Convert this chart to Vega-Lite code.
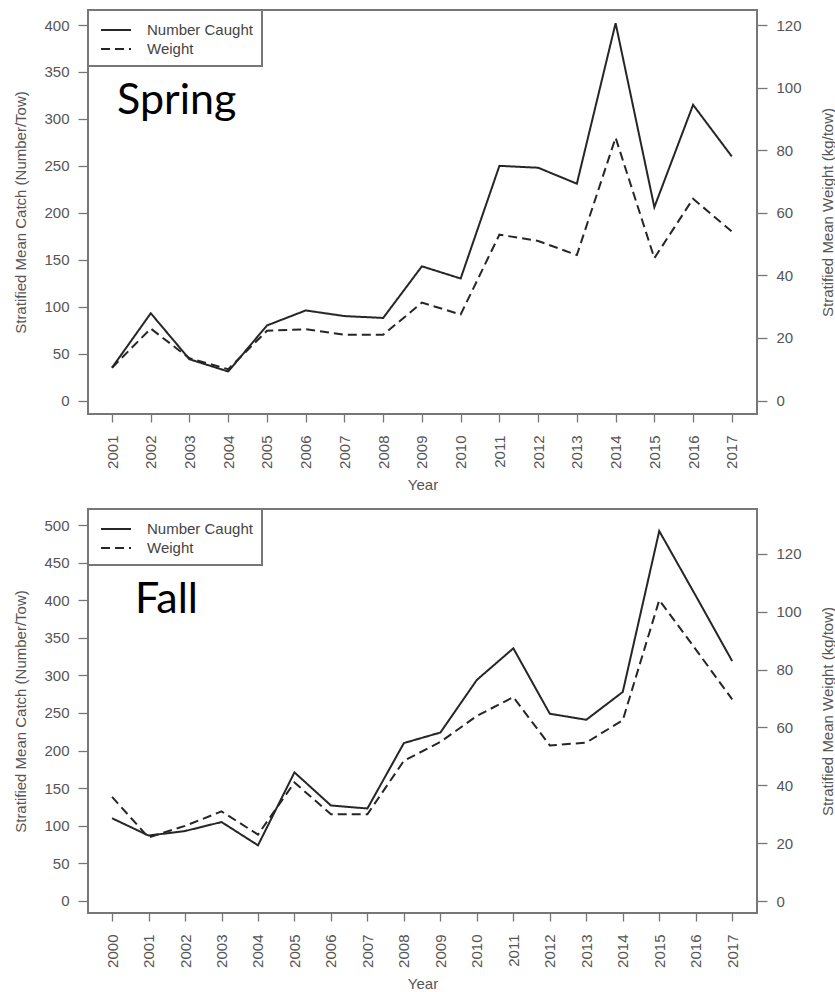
{
  "$schema": "https://vega.github.io/schema/vega-lite/v6.json",
  "background": "white",
  "padding": {"left": 12, "top": 8, "right": 0, "bottom": 0},
  "datasets": {
    "catch": [
      {"season": "Spring", "year": 2001, "number": 35, "weight": 10.5},
      {"season": "Spring", "year": 2002, "number": 93, "weight": 23},
      {"season": "Spring", "year": 2003, "number": 44, "weight": 13.5},
      {"season": "Spring", "year": 2004, "number": 31, "weight": 10},
      {"season": "Spring", "year": 2005, "number": 80, "weight": 22.3},
      {"season": "Spring", "year": 2006, "number": 96, "weight": 22.8},
      {"season": "Spring", "year": 2007, "number": 90, "weight": 21},
      {"season": "Spring", "year": 2008, "number": 88, "weight": 21},
      {"season": "Spring", "year": 2009, "number": 143, "weight": 31.3},
      {"season": "Spring", "year": 2010, "number": 130, "weight": 27.5},
      {"season": "Spring", "year": 2011, "number": 250, "weight": 53},
      {"season": "Spring", "year": 2012, "number": 248, "weight": 51},
      {"season": "Spring", "year": 2013, "number": 231, "weight": 46.5},
      {"season": "Spring", "year": 2014, "number": 402, "weight": 84},
      {"season": "Spring", "year": 2015, "number": 206, "weight": 45.5},
      {"season": "Spring", "year": 2016, "number": 315, "weight": 64.5},
      {"season": "Spring", "year": 2017, "number": 260, "weight": 54},
      {"season": "Fall", "year": 2000, "number": 110, "weight": 36},
      {"season": "Fall", "year": 2001, "number": 87, "weight": 22},
      {"season": "Fall", "year": 2002, "number": 93, "weight": 26},
      {"season": "Fall", "year": 2003, "number": 105, "weight": 31},
      {"season": "Fall", "year": 2004, "number": 74, "weight": 23},
      {"season": "Fall", "year": 2005, "number": 171, "weight": 41},
      {"season": "Fall", "year": 2006, "number": 127, "weight": 30},
      {"season": "Fall", "year": 2007, "number": 123, "weight": 30},
      {"season": "Fall", "year": 2008, "number": 210, "weight": 48.5},
      {"season": "Fall", "year": 2009, "number": 224, "weight": 55},
      {"season": "Fall", "year": 2010, "number": 294, "weight": 64},
      {"season": "Fall", "year": 2011, "number": 336, "weight": 70.5},
      {"season": "Fall", "year": 2012, "number": 249, "weight": 53.8},
      {"season": "Fall", "year": 2013, "number": 241, "weight": 54.8},
      {"season": "Fall", "year": 2014, "number": 278, "weight": 62.5},
      {"season": "Fall", "year": 2015, "number": 492, "weight": 104},
      {"season": "Fall", "year": 2016, "number": 406, "weight": 87},
      {"season": "Fall", "year": 2017, "number": 319, "weight": 69.7}
    ]
  },
  "data": {"name": "catch"},
  "config": {
    "view": {"stroke": "#777", "strokeWidth": 2},
    "axis": {
      "labelFont": "Liberation Sans",
      "titleFont": "Liberation Sans",
      "labelFontSize": 15,
      "titleFontSize": 15,
      "titleFontWeight": "normal",
      "labelColor": "#555",
      "titleColor": "#555",
      "tickColor": "#777",
      "tickWidth": 1.3,
      "domain": false,
      "grid": false,
      "labelFlush": false,
      "labelOverlap": false
    },
    "legend": {
      "orient": "top-left",
      "offset": 0,
      "padding": 9,
      "strokeColor": "#777",
      "strokeWidth": 2,
      "fillColor": "white",
      "cornerRadius": 0,
      "labelFont": "Liberation Sans",
      "labelFontSize": 15,
      "labelColor": "#444",
      "symbolType": "M-1.5,0H1.5",
      "symbolSize": 400,
      "symbolStrokeWidth": 2,
      "symbolStrokeColor": "#262626",
      "symbolOffset": 8,
      "labelOffset": 20,
      "rowPadding": -1
    }
  },
  "resolve": {"scale": {"strokeDash": "independent"}, "legend": {"strokeDash": "independent"}},
  "spacing": 14,
  "vconcat": [
    {
      "width": 669,
      "height": 404,
      "encoding": {
        "x": {
          "field": "year",
          "type": "quantitative",
          "scale": {"domain": [2000.38, 2017.65], "nice": false, "zero": false},
          "axis": {
            "title": "Year",
            "values": [2001, 2002, 2003, 2004, 2005, 2006, 2007, 2008, 2009, 2010, 2011, 2012, 2013, 2014, 2015, 2016, 2017],
            "format": "d",
            "labelAngle": 270,
            "tickSize": 8,
            "labelPadding": 13,
            "titleX": 334.5,
            "titleY": 70,
            "titleBaseline": "middle",
            "titleAlign": "center"
          }
        }
      },
      "layer": [
        {
          "layer": [
            {
              "transform": [{"filter": "datum.season === 'Spring'"}],
              "mark": {"type": "line", "color": "#262626", "strokeWidth": 2},
              "encoding": {
                "y": {
                  "field": "number",
                  "type": "quantitative",
                  "scale": {"domain": [-14.3, 416], "nice": false, "zero": false},
                  "axis": {
                    "orient": "left",
                    "title": "Stratified Mean Catch (Number/Tow)",
                    "values": [0, 50, 100, 150, 200, 250, 300, 350, 400],
                    "tickSize": 10,
                    "labelPadding": 9,
                    "titleAngle": 270,
                    "titleX": -68,
                    "titleY": 202,
                    "titleBaseline": "middle",
                    "titleAlign": "center"
                  }
                },
                "strokeDash": {
                  "datum": "Number Caught",
                  "type": "nominal",
                  "scale": {"domain": ["Number Caught", "Weight"], "range": [[1, 0], [9, 5]]},
                  "legend": {"title": null}
                }
              }
            },
            {
              "transform": [{"filter": "datum.season === 'Spring' && datum.year === 2001"}],
              "mark": {"type": "text", "font": "Lato", "fontSize": 43, "align": "left", "baseline": "alphabetic", "fill": "black"},
              "encoding": {
                "x": {"datum": 2001.13},
                "y": {"datum": 305},
                "text": {"field": "season", "type": "nominal"}
              }
            }
          ]
        },
        {
          "transform": [{"filter": "datum.season === 'Spring'"}],
          "mark": {"type": "line", "color": "#262626", "strokeWidth": 2},
          "encoding": {
            "y": {
              "field": "weight",
              "type": "quantitative",
              "scale": {"domain": [-4.3, 124.8], "nice": false, "zero": false},
              "axis": {
                "orient": "right",
                "title": "Stratified Mean Weight (kg/tow)",
                "values": [0, 20, 40, 60, 80, 100, 120],
                "tickSize": 10,
                "labelPadding": 9,
                "titleAngle": 270,
                "titleX": 70,
                "titleY": 202,
                "titleBaseline": "middle",
                "titleAlign": "center"
              }
            },
            "strokeDash": {
              "datum": "Weight",
              "type": "nominal",
              "scale": {"domain": ["Number Caught", "Weight"], "range": [[1, 0], [9, 5]]},
              "legend": {"title": null}
            }
          }
        }
      ],
      "resolve": {"scale": {"y": "independent"}}
    },
    {
      "width": 669,
      "height": 404,
      "encoding": {
        "x": {
          "field": "year",
          "type": "quantitative",
          "scale": {"domain": [1999.34, 2017.68], "nice": false, "zero": false},
          "axis": {
            "title": "Year",
            "values": [2000, 2001, 2002, 2003, 2004, 2005, 2006, 2007, 2008, 2009, 2010, 2011, 2012, 2013, 2014, 2015, 2016, 2017],
            "format": "d",
            "labelAngle": 270,
            "tickSize": 8,
            "labelPadding": 13,
            "titleX": 334.5,
            "titleY": 70,
            "titleBaseline": "middle",
            "titleAlign": "center"
          }
        }
      },
      "layer": [
        {
          "layer": [
            {
              "transform": [{"filter": "datum.season === 'Fall'"}],
              "mark": {"type": "line", "color": "#262626", "strokeWidth": 2},
              "encoding": {
                "y": {
                  "field": "number",
                  "type": "quantitative",
                  "scale": {"domain": [-16, 521.3], "nice": false, "zero": false},
                  "axis": {
                    "orient": "left",
                    "title": "Stratified Mean Catch (Number/Tow)",
                    "values": [0, 50, 100, 150, 200, 250, 300, 350, 400, 450, 500],
                    "tickSize": 10,
                    "labelPadding": 9,
                    "titleAngle": 270,
                    "titleX": -68,
                    "titleY": 202,
                    "titleBaseline": "middle",
                    "titleAlign": "center"
                  }
                },
                "strokeDash": {
                  "datum": "Number Caught",
                  "type": "nominal",
                  "scale": {"domain": ["Number Caught", "Weight"], "range": [[1, 0], [9, 5]]},
                  "legend": {"title": null}
                }
              }
            },
            {
              "transform": [{"filter": "datum.season === 'Fall' && datum.year === 2000"}],
              "mark": {"type": "text", "font": "Lato", "fontSize": 43, "align": "left", "baseline": "alphabetic", "fill": "black"},
              "encoding": {
                "x": {"datum": 2000.63},
                "y": {"datum": 383},
                "text": {"field": "season", "type": "nominal"}
              }
            }
          ]
        },
        {
          "transform": [{"filter": "datum.season === 'Fall'"}],
          "mark": {"type": "line", "color": "#262626", "strokeWidth": 2},
          "encoding": {
            "y": {
              "field": "weight",
              "type": "quantitative",
              "scale": {"domain": [-4.1, 135.5], "nice": false, "zero": false},
              "axis": {
                "orient": "right",
                "title": "Stratified Mean Weight (kg/tow)",
                "values": [0, 20, 40, 60, 80, 100, 120],
                "tickSize": 10,
                "labelPadding": 9,
                "titleAngle": 270,
                "titleX": 70,
                "titleY": 202,
                "titleBaseline": "middle",
                "titleAlign": "center"
              }
            },
            "strokeDash": {
              "datum": "Weight",
              "type": "nominal",
              "scale": {"domain": ["Number Caught", "Weight"], "range": [[1, 0], [9, 5]]},
              "legend": {"title": null}
            }
          }
        }
      ],
      "resolve": {"scale": {"y": "independent"}}
    }
  ]
}
